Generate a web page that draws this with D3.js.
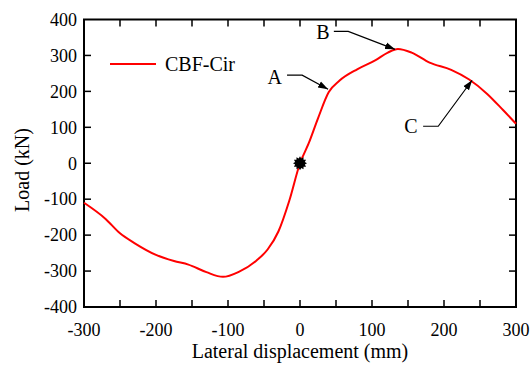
<!DOCTYPE html>
<html><head><meta charset="utf-8">
<script src="https://cdn.jsdelivr.net/npm/d3@7/dist/d3.min.js"></script>
<style>html,body{margin:0;padding:0;background:#fff;}svg{display:block;}</style>
</head><body>
<script>
const dispX = [-300,-270,-250,-230,-200,-175,-155,-130,-107,-85,-60,-45,-30,-15,0,12,25,40,55,80,105,122,136,155,180,210,235,260,282,300];
const loadY = [-110,-155,-195,-222,-255,-272,-282,-303,-316,-302,-270,-240,-190,-105,0,55,125,198,230,262,287,308,318,308,280,260,233,193,148,110];
const xTicks = [-300,-200,-100,0,100,200,300];
const yTicks = [400,300,200,100,0,-100,-200,-300,-400];
const seriesName = "CBF-Cir";
const annLabels = ["A","B","C"];
const annText = [[-35,240],[32,365],[154,103]];
const annPath = [
  [[-18,245],[3,245],[39,206]],
  [[47,367],[67,367],[132,317]],
  [[171,103],[192,103],[239,231]]
];
const markerPt = [0,0];

const W=531,H=367;
const svg=d3.select("body").append("svg").attr("width",W).attr("height",H)
  .style("font-family",'"Liberation Serif", "Times New Roman", serif');
const x=d3.scaleLinear().domain([-300,300]).range([84,516]);
const y=d3.scaleLinear().domain([-400,400]).range([307,19.5]);

svg.append("defs").append("marker").attr("id","ah").attr("viewBox","0 0 10 10")
  .attr("refX",10).attr("refY",5).attr("markerWidth",10).attr("markerHeight",10)
  .attr("markerUnits","userSpaceOnUse").attr("orient","auto")
  .append("path").attr("d","M0,1.5L10,5L0,8.5Z").attr("fill","#000");

const tl=7;
const xMinor=d3.range(-250,300,50);
const g=svg.append("g").attr("stroke","#000").attr("stroke-width",1.5);
xMinor.forEach(v=>{
  g.append("line").attr("x1",x(v)).attr("x2",x(v)).attr("y1",y(-400)).attr("y2",y(-400)-tl);
  g.append("line").attr("x1",x(v)).attr("x2",x(v)).attr("y1",y(400)).attr("y2",y(400)+tl);
});
yTicks.slice(1,-1).forEach(v=>{
  g.append("line").attr("x1",x(-300)).attr("x2",x(-300)+tl).attr("y1",y(v)).attr("y2",y(v));
  g.append("line").attr("x1",x(300)).attr("x2",x(300)-tl).attr("y1",y(v)).attr("y2",y(v));
});
svg.append("rect").attr("x",x(-300)).attr("y",y(400)).attr("width",x(300)-x(-300)).attr("height",y(-400)-y(400))
  .attr("fill","none").attr("stroke","#000").attr("stroke-width",2);

svg.selectAll(".xl").data(xTicks).enter().append("text").attr("x",d=>x(d)).attr("y",336)
  .attr("text-anchor","middle").attr("font-size",18).text(d=>d);
svg.selectAll(".yl").data(yTicks).enter().append("text").attr("x",77).attr("y",d=>y(d)).attr("dy","0.35em")
  .attr("text-anchor","end").attr("font-size",18).text(d=>d);
svg.append("text").attr("x",300).attr("y",358).attr("text-anchor","middle").attr("font-size",20)
  .text("Lateral displacement (mm)");
svg.append("text").attr("transform","translate(22,170) rotate(-90)").attr("text-anchor","middle").attr("dy","0.35em").attr("font-size",20)
  .text("Load (kN)");

const pts=dispX.map((d,i)=>[d,loadY[i]]);
const line=d3.line().x(d=>x(d[0])).y(d=>y(d[1])).curve(d3.curveMonotoneX);
svg.append("path").attr("d",line(pts)).attr("fill","none").attr("stroke","#ff0000").attr("stroke-width",2);

svg.append("line").attr("x1",110).attr("x2",156).attr("y1",64).attr("y2",64).attr("stroke","#ff0000").attr("stroke-width",2);
svg.append("text").attr("x",165).attr("y",64).attr("dy","0.35em").attr("font-size",20).text(seriesName);

const nP=12, rO=7, rI=5;
const star=d3.range(nP*2).map(i=>{const r=i%2?rI:rO;const a=i*Math.PI/nP;return [x(markerPt[0])+r*Math.cos(a), y(markerPt[1])+r*Math.sin(a)];});
svg.append("path").attr("d","M"+star.join("L")+"Z").attr("fill","#000");

annLabels.forEach((lab,i)=>{
  svg.append("text").attr("x",x(annText[i][0])).attr("y",y(annText[i][1])).attr("dy","0.35em").attr("text-anchor","middle")
    .attr("font-size",20).text(lab);
  svg.append("path").attr("d",d3.line().x(d=>x(d[0])).y(d=>y(d[1]))(annPath[i]))
    .attr("fill","none").attr("stroke","#000").attr("stroke-width",1.2).attr("marker-end","url(#ah)");
});
</script>
</body></html>
